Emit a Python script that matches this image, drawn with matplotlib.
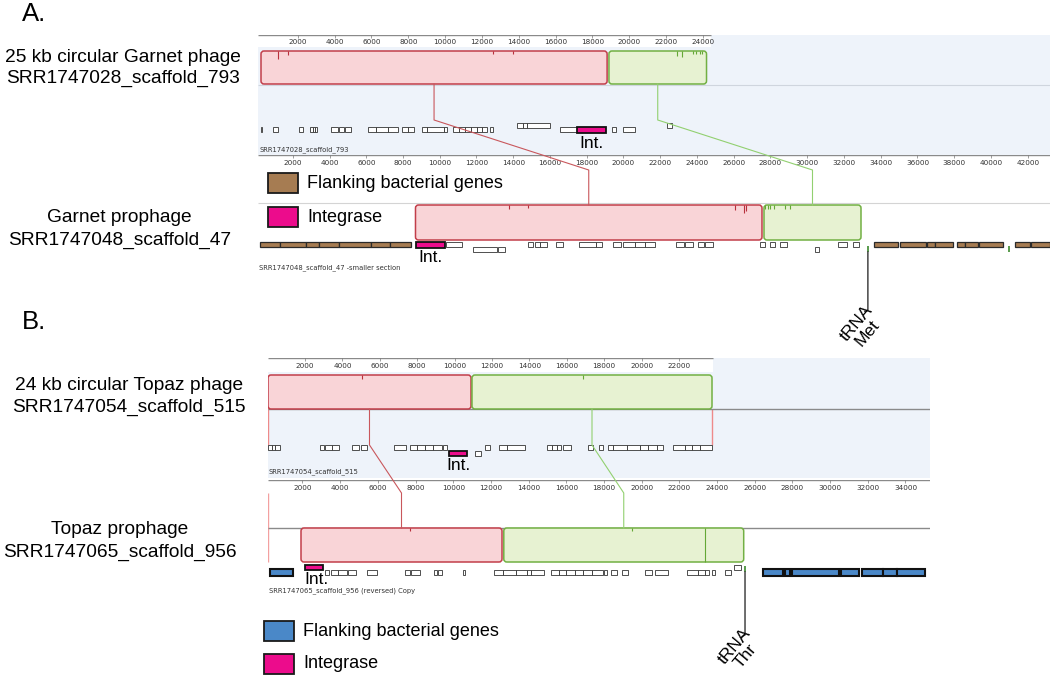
import matplotlib
matplotlib.use("Agg")
import matplotlib.pyplot as plt
from matplotlib.patches import Rectangle, FancyBboxPatch

plt.rcParams["font.family"] = ["Liberation Sans", "DejaVu Sans"]

W, H = 1050, 675

# ── A: Garnet phage, SRR1747028_scaffold_793 (bp) ────────────────────────────
GP_LCB = [(0, 18800), (18900, 24200)]
GP_SPIKES = [(923, 8), (1467, 4), (12602, 3), (13688, 3),
             (22600, 5), (22870, 6), (23470, 3), (23650, 3), (23820, 3), (23980, 3)]
GP_GENES = [(0, 60), (652, 923), (2064, 2281), (2662, 2824), (2824, 2933), (2933, 3042),
            (3786, 4199), (4253, 4525), (4563, 4872), (5796, 6230), (6230, 6882),
            (6882, 7458), (7675, 7968), (8001, 8327), (8729, 9000), (9000, 9956),
            (9956, 10087), (10429, 10755), (10755, 11081), (11081, 11407), (11407, 11716),
            (11716, 11988), (11988, 12260), (12439, 12618), (16241, 17149),
            (19049, 19283), (19647, 20315)]
GP_GENES_UP = [(13889, 14248), (14248, 14432), (14432, 15698), (22053, 22308)]
GP_INT = (17149, 18740)
GP_TICKS = list(range(2000, 24001, 2000))
GP_END = 24450

# ── A: Garnet prophage, SRR1747048_scaffold_47 ───────────────────────────────
GPRO_LCB = [(8680, 27537), (27646, 32925)]
GPRO_SPIKES = [(13747, 4), (14803, 3), (26046, 5), (26557, 8), (26666, 6),
               (27700, 4), (27850, 4), (28000, 4), (28200, 4), (28790, 4), (29060, 4)]
GPRO_FLANK = [(218, 1333), (1333, 2721), (2721, 3418), (3418, 4517), (4517, 6259),
              (6259, 7293), (7293, 8414), (33633, 34955), (35048, 36463), (36501, 36952),
              (36952, 37948), (38166, 38585), (38585, 39308), (39363, 40669),
              (41306, 42122), (42177, 43211)]
GPRO_GENES = [(10356, 11189), (14803, 15075), (15162, 15456), (15456, 15826),
              (16327, 16686), (17578, 18493), (18493, 18825), (19429, 19880),
              (19995, 20637), (20637, 21192), (21192, 21741), (22857, 23271),
              (23325, 23771), (24049, 24381), (24435, 24881), (27429, 27701),
              (27973, 28267), (28544, 28876), (31673, 32163), (32490, 32795)]
GPRO_GENES_DOWN = [(11804, 13132), (13192, 13551), (30405, 30628)]
GPRO_INT = (8691, 10275)
GPRO_GREEN = [33300, 40963]
GPRO_TRNA = 33300
GPRO_TICKS = list(range(2000, 42001, 2000))

# ── B: Topaz phage, SRR1747054_scaffold_515 ──────────────────────────────────
TP_LCB = [(21, 10877), (10930, 23765)]
TP_SPIKES = [(5030, 4), (16850, 4)]
TP_GENES = [(37, 219), (219, 396), (396, 663), (2802, 3016), (3070, 3428), (3428, 3818),
            (4497, 4904), (4979, 5299), (6775, 7385), (7615, 7973), (7973, 8417),
            (8417, 8861), (8861, 9310), (9364, 9578), (11626, 11893), (12390, 12786),
            (12786, 13765), (14957, 15193), (15193, 15460), (15460, 15674), (15781, 16209),
            (17150, 17417), (17738, 17952), (18219, 18487), (18487, 19203), (19203, 19914),
            (19914, 20358), (20358, 20807), (20807, 21160), (21695, 22321), (22321, 22679),
            (22679, 23123), (23123, 23749)]
TP_GENES_DOWN = [(11091, 11396)]
TP_INT = (9701, 10679)
TP_TICKS = list(range(2000, 22001, 2000))
TP_END = 23800

# ── B: Topaz prophage, SRR1747065_scaffold_956 ───────────────────────────────
TPRO_LCB = [(1921, 12588), (12683, 25414)]
TPRO_SPIKES = [(7690, 3), (19486, 3), (23344, 34)]
TPRO_FLANK = [(250, 1470), (26454, 27515), (27606, 27871), (27961, 30487),
              (30562, 31549), (31708, 32790), (32790, 33565), (33565, 35035)]
TPRO_GENES = [(3195, 3428), (3497, 3890), (3890, 4352), (4420, 4856), (5434, 5960),
              (7456, 7690), (7758, 8220), (8953, 9138), (9186, 9414), (10518, 10613),
              (12179, 12641), (12641, 13331), (13331, 13904), (13904, 14132), (14132, 14827),
              (15172, 15629), (15629, 15979), (15979, 16435), (16435, 16897), (16897, 17358),
              (17358, 17932), (18000, 18160), (18393, 18669), (18972, 19269), (20187, 20537),
              (20696, 21386), (22421, 22999), (22999, 23344), (23344, 23573), (23758, 23917),
              (24448, 24724)]
TPRO_GENES_UP = [(24910, 25255)]
TPRO_INT = (2117, 3083)
TPRO_TRNA = 25484
TPRO_TICKS = list(range(2000, 34001, 2000))

BG_BLUE = "#eef3fa"
LCB_COLORS = [("#f9d4d7", "#c23e4a", "#b8303c"), ("#e7f2d2", "#72b043", "#64a835")]
BROWN = "#a67c52"
BLUE = "#4a88c8"
MAGENTA = "#ec0c8c"
MONO = "DejaVu Sans"

fig = plt.figure(figsize=(W / 100, H / 100), dpi=100)


def track(left, right, top, bottom, x0, scale, bg="white"):
    ax = fig.add_axes([left / W, 1 - bottom / H, (right - left) / W, (bottom - top) / H])
    ax.set_xlim((left - x0) / scale, (right - x0) / scale)
    ax.set_ylim(bottom, top)
    ax.set_xticks([])
    ax.set_yticks([])
    for s in ax.spines.values():
        s.set_visible(False)
    ax.set_facecolor(bg)
    ax.scale = scale
    return ax


def ruler(ax, y_line, y_lab, ticks, end=None, white_to=None):
    x0, x1 = ax.get_xlim()
    end = x1 if end is None else end
    if white_to is not None:
        ax.add_patch(Rectangle((x0, y_line), end - x0, white_to - y_line,
                               fc="white", ec="none", zorder=0.5))
    ax.hlines(y_line, x0, end, color="#8a8a8a", lw=1.0)
    for t in ticks:
        ax.vlines(t, y_line, y_line + 3, color="#777", lw=0.5)
        ax.text(t, y_lab, str(t), ha="center", va="center", fontsize=5.2,
                color="#333", family=MONO)


def blocks(ax, lcbs, spikes, top, bottom):
    r = 3 / ax.scale
    for (s, e), (fc, ec, _) in zip(lcbs, LCB_COLORS):
        ax.add_patch(FancyBboxPatch((s, top), e - s, bottom - top,
                                    boxstyle=f"round,pad=0,rounding_size={r}",
                                    mutation_aspect=ax.scale, fc=fc, ec=ec, lw=1.1, zorder=2))
    for pos, depth in spikes:
        col = LCB_COLORS[0][2] if lcbs[0][0] <= pos <= lcbs[0][1] else LCB_COLORS[1][2]
        ax.vlines(pos, top, top + depth, color=col, lw=0.8, zorder=3)


def genes(ax, spans, yc, h=5, fc="white", ec="#333", lw=0.6):
    for s, e in spans:
        ax.add_patch(Rectangle((s, yc - h / 2), e - s, h, fc=fc, ec=ec, lw=lw, zorder=3))


# ── A1: Garnet phage ─────────────────────────────────────────────────────────
a1 = track(258, 1050, 35, 155, 261, 0.01841, bg=BG_BLUE)
ruler(a1, 35, 41.5, GP_TICKS, end=GP_END, white_to=47)
a1.hlines(85, *a1.get_xlim(), color="#cfd5de", lw=0.8)
blocks(a1, GP_LCB, GP_SPIKES, 51, 84)
genes(a1, GP_GENES, 129.5)
genes(a1, GP_GENES_UP, 125)
genes(a1, [GP_INT], 129.7, h=6, fc=MAGENTA, ec="#111", lw=1.3)
a1.text(sum(GP_INT) / 2, 143, "Int.", ha="center", va="center", fontsize=12.5)
a1.text(a1.get_xlim()[0] + 100, 150, "SRR1747028_scaffold_793", ha="left", va="center",
        fontsize=4.9, family=MONO, color="#333")

# ── A2: Garnet prophage ──────────────────────────────────────────────────────
a2 = track(258, 1050, 155, 280, 256, 0.018375)
ruler(a2, 155, 163, GPRO_TICKS)
a2.hlines(203, *a2.get_xlim(), color="#d4d4d4", lw=0.8)
blocks(a2, GPRO_LCB, GPRO_SPIKES, 205, 240)
genes(a2, GPRO_FLANK, 244.8, h=5, fc=BROWN, ec="#2a2a2a", lw=0.9)
genes(a2, GPRO_GENES, 244.8)
genes(a2, GPRO_GENES_DOWN, 249.5)
genes(a2, [GPRO_INT], 245, h=6, fc=MAGENTA, ec="#111", lw=1.3)
a2.vlines(GPRO_GREEN, 246, 252, color="#3c8a2e", lw=1.2, zorder=4)
a2.text(sum(GPRO_INT) / 2, 258, "Int.", ha="center", va="center", fontsize=12.5)
a2.text(a2.get_xlim()[0] + 40, 268, "SRR1747048_scaffold_47 -smaller section", ha="left",
        va="center", fontsize=4.9, family=MONO, color="#333")

# ── B1: Topaz phage ──────────────────────────────────────────────────────────
b1 = track(268, 930, 358, 478, 267.6, 0.0187, bg=BG_BLUE)
ruler(b1, 358, 366, TP_TICKS, end=TP_END, white_to=372)
b1.hlines(409, *b1.get_xlim(), color="#8a8a8a", lw=1.0)
blocks(b1, TP_LCB, TP_SPIKES, 375, 409)
b1.vlines(b1.get_xlim()[0] + 20, 375, 445, color="#ee8a8a", lw=1.0, zorder=1)
b1.vlines(TP_LCB[1][1], 409, 445, color="#ee8a8a", lw=1.0, zorder=1)
genes(b1, TP_GENES, 447.5)
genes(b1, TP_GENES_DOWN, 453.5)
genes(b1, [TP_INT], 453.7, h=4.5, fc=MAGENTA, ec="#111", lw=1.3)
b1.text(sum(TP_INT) / 2, 466, "Int.", ha="center", va="center", fontsize=12.5)
b1.text(b1.get_xlim()[0] + 40, 472, "SRR1747054_scaffold_515", ha="left", va="center",
        fontsize=4.9, family=MONO, color="#333")

# ── B2: Topaz prophage ───────────────────────────────────────────────────────
b2 = track(268, 930, 480, 600, 264.8, 0.018844)
ruler(b2, 480, 488, TPRO_TICKS)
b2.hlines(528, *b2.get_xlim(), color="#8a8a8a", lw=1.0)
blocks(b2, TPRO_LCB, TPRO_SPIKES, 528, 562)
b2.vlines(b2.get_xlim()[0] + 20, 493, 562, color="#f3a0a0", lw=1.0, zorder=1)
genes(b2, TPRO_FLANK, 572.5, h=6.5, fc=BLUE, ec="#111", lw=1.5)
genes(b2, TPRO_GENES, 572.5)
genes(b2, TPRO_GENES_UP, 567)
genes(b2, [TPRO_INT], 567.3, h=4.5, fc=MAGENTA, ec="#111", lw=1.3)
b2.vlines(TPRO_TRNA, 566, 572, color="#3c8a2e", lw=1.2, zorder=4)
b2.text(sum(TPRO_INT) / 2 + 150, 580, "Int.", ha="center", va="center", fontsize=12.5)
b2.text(b2.get_xlim()[0] + 40, 591, "SRR1747065_scaffold_956 (reversed) Copy", ha="left",
        va="center", fontsize=4.9, family=MONO, color="#333")

# ── overlay in figure pixels: connectors, labels, legends ────────────────────
ov = fig.add_axes([0, 0, 1, 1], zorder=10)
ov.set_xlim(0, W)
ov.set_ylim(H, 0)
ov.axis("off")


def to_px(ax, bp):
    return ov.transData.inverted().transform(ax.transData.transform((bp, 0)))[0]


def connect(ax_top, lcbs_top, ax_bot, lcbs_bot, ys):
    for (s1, e1), (s2, e2), col in zip(lcbs_top, lcbs_bot, ["#c9575c", "#92d070"]):
        x1 = to_px(ax_top, (s1 + e1) / 2)
        x2 = to_px(ax_bot, (s2 + e2) / 2)
        ov.plot([x1, x1, x2, x2], ys, color=col, lw=0.8)


connect(a1, GP_LCB, a2, GPRO_LCB, [84, 120, 170, 205])
connect(b1, TP_LCB, b2, TPRO_LCB, [409, 445, 493, 528])

for ax, bp, y0, y1, lab, pos in [(a2, GPRO_TRNA, 252, 310, "tRNA\nMet", (862, 328)),
                                 (b2, TPRO_TRNA, 572, 635, "tRNA\nThr", (740, 651))]:
    x = to_px(ax, bp)
    ov.plot([x, x, x - 3], [y0, y1, y1 + 1.5], color="#333", lw=1.0)
    ov.text(*pos, lab, rotation=50, ha="center", va="center", fontsize=12.5,
            linespacing=1.0)

# left labels
ov.text(22, 14, "A.", ha="left", va="center", fontsize=18.5)
ov.text(22, 322, "B.", ha="left", va="center", fontsize=18.5)
for x, y, s in [(123, 57, "25 kb circular Garnet phage"), (123, 78, "SRR1747028_scaffold_793"),
                (119, 218, "Garnet prophage"), (120, 240, "SRR1747048_scaffold_47"),
                (129, 385, "24 kb circular Topaz phage"), (129, 407, "SRR1747054_scaffold_515"),
                (120, 530, "Topaz prophage"), (120, 552, "SRR1747065_scaffold_956")]:
    ov.text(x, y, s, ha="center", va="center", fontsize=13.8)

# legends
for x, y, fc, lab in [(268, 173, BROWN, "Flanking bacterial genes"),
                      (268, 207, MAGENTA, "Integrase"),
                      (264, 621, BLUE, "Flanking bacterial genes"),
                      (264, 654, MAGENTA, "Integrase")]:
    ov.add_patch(Rectangle((x, y), 30, 20, fc=fc, ec="#1a1a1a", lw=1.3))
    ov.text(x + 39, y + 10, lab, ha="left", va="center", fontsize=13)

fig.savefig("out.png", dpi=100)
